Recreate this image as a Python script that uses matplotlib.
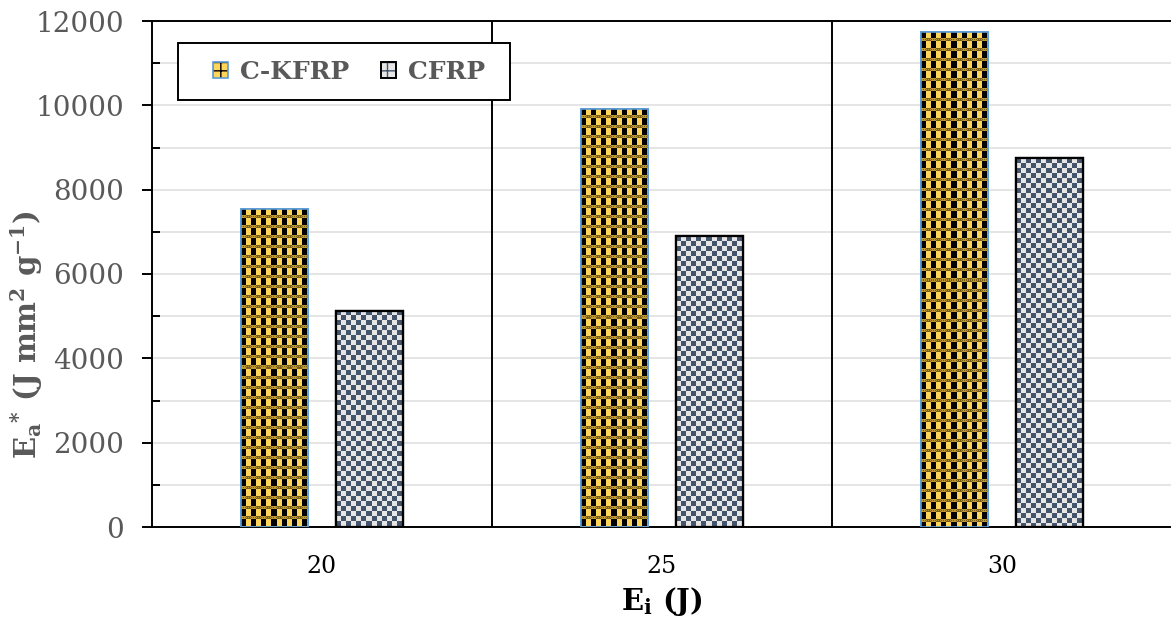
import numpy as np
import matplotlib
matplotlib.use("Agg")
import matplotlib.pyplot as plt
from matplotlib.patches import Patch, Rectangle
from matplotlib.legend_handler import HandlerTuple
from matplotlib.ticker import MultipleLocator

categories = ["20", "25", "30"]
series_names = ["C-KFRP", "CFRP"]
ckfrp = [7550, 9920, 11740]
cfrp = [5130, 6900, 8750]
x_label = "E$_\\mathregular{i}$ (J)"
y_label = "E$_\\mathregular{a}$$^\\mathregular{*}$ (J mm$^\\mathregular{2}$ g$^\\mathregular{-1}$)"

W, H = 1171, 619
fig = plt.figure(figsize=(W / 100, H / 100), dpi=100)
ax = fig.add_axes([152 / W, (H - 527) / H, 1020 / W, 506 / H])

serif = "DejaVu Serif"
gray = "#595959"
yellow = np.array([255, 214, 90]) / 255
black = np.array([0, 0, 0]) / 255
olive = np.array([120, 95, 25]) / 255
darkyel = np.array([190, 150, 50]) / 255
slate = np.array([68, 84, 106]) / 255
light = np.array([231, 230, 230]) / 255

x = np.arange(len(categories))
bw = 0.195
off = 0.14

b1 = ax.bar(x - off, ckfrp, bw, facecolor=yellow, edgecolor="#5B9BD5", linewidth=1.2, zorder=3)
b2 = ax.bar(x + off, cfrp, bw, facecolor=light, edgecolor="black", linewidth=1.6, zorder=3)

ax.set_xlim(-0.5, 2.5)
ax.set_ylim(0, 12000)


def tile_ckfrp(h, w):
    img = np.empty((h, w, 3))
    img[:] = yellow
    for r in range(h):
        for c in range(w):
            rr, cc = r % 10, c % 10
            if rr < 7:
                img[r, c] = black if cc < 5 else yellow
            elif rr == 8:
                img[r, c] = olive if c % 2 == 0 else darkyel
            else:
                img[r, c] = darkyel if cc < 5 else olive
    return img


def tile_cfrp(h, w, s=5):
    img = np.empty((h, w, 3))
    for r in range(h):
        for c in range(w):
            img[r, c] = slate if ((r // s) + (c // s)) % 2 == 0 else light
    return img


for bars, maker in ((b1, tile_ckfrp), (b2, tile_cfrp)):
    for b in bars:
        x0, y0 = b.get_x(), b.get_y()
        x1, y1 = x0 + b.get_width(), y0 + b.get_height()
        p0 = ax.transData.transform((x0, y0))
        p1 = ax.transData.transform((x1, y1))
        wpx = max(1, int(round(p1[0] - p0[0])))
        hpx = max(1, int(round(p1[1] - p0[1])))
        im = ax.imshow(maker(hpx, wpx), extent=(x0, x1, y0, y1), origin="upper",
                       interpolation="nearest", aspect="auto", zorder=3.5)
        im.set_clip_path(b)
        ax.add_patch(Rectangle((x0, y0), b.get_width(), b.get_height(), fill=False,
                               edgecolor=b.get_edgecolor(), linewidth=b.get_linewidth(), zorder=4))

ax.set_aspect("auto")
ax.set_xlim(-0.5, 2.5)
ax.set_ylim(0, 12000)

ax.yaxis.set_major_locator(MultipleLocator(2000))
ax.yaxis.set_minor_locator(MultipleLocator(1000))
ax.grid(axis="y", which="both", color="#E3E3E3", linewidth=1.3, zorder=0)
ax.set_axisbelow(True)

for xv in (0.5, 1.5):
    ax.axvline(xv, color="black", linewidth=1.4, zorder=2)

ax.spines["right"].set_visible(False)
for s in ("left", "bottom", "top"):
    ax.spines[s].set_color("black")
    ax.spines[s].set_linewidth(1.4)

ax.tick_params(axis="y", which="major", direction="out", length=7, width=1.4, color="black",
               labelsize=20, labelcolor=gray, pad=13)
ax.tick_params(axis="y", which="minor", direction="in", length=6, width=1.4, color="black")
ax.tick_params(axis="x", length=0, labelsize=17, labelcolor="black", pad=20)
ax.set_xticks(x)
ax.set_xticklabels(categories)
for lab in ax.get_yticklabels() + ax.get_xticklabels():
    lab.set_fontfamily(serif)

ax.set_xlabel(x_label, fontsize=21, fontweight="bold", fontfamily=serif, color="black", labelpad=5)
ax.set_ylabel(y_label, fontsize=21, fontweight="bold", fontfamily=serif, color=gray)
ax.yaxis.set_label_coords(-0.105, 0.38)

# legend frame
ax.add_patch(Rectangle((0.0255, 0.844), 0.3255, 0.1125, transform=ax.transAxes,
                       facecolor="white", edgecolor="black", linewidth=1.4, zorder=9))

h1 = (Patch(facecolor=yellow, edgecolor="black", hatch="++", linewidth=0),
      Patch(fill=False, edgecolor="#5B9BD5", linewidth=1.2))
h2 = (Patch(facecolor=light, edgecolor=slate, hatch="++", linewidth=0),
      Patch(fill=False, edgecolor="black", linewidth=1.4))
leg = ax.legend([h1, h2], series_names, handler_map={tuple: HandlerTuple(ndivide=1)},
                loc="center left", bbox_to_anchor=(0.0598, 0.899), frameon=False,
                borderpad=0, handlelength=0.6, handleheight=0.6, handletextpad=0.5,
                columnspacing=1.25, ncol=2,
                prop={"family": serif, "weight": "bold", "size": 18},
                borderaxespad=0)
for t in leg.get_texts():
    t.set_color(gray)
leg.set_zorder(10)

fig.savefig("out.png", dpi=100)
